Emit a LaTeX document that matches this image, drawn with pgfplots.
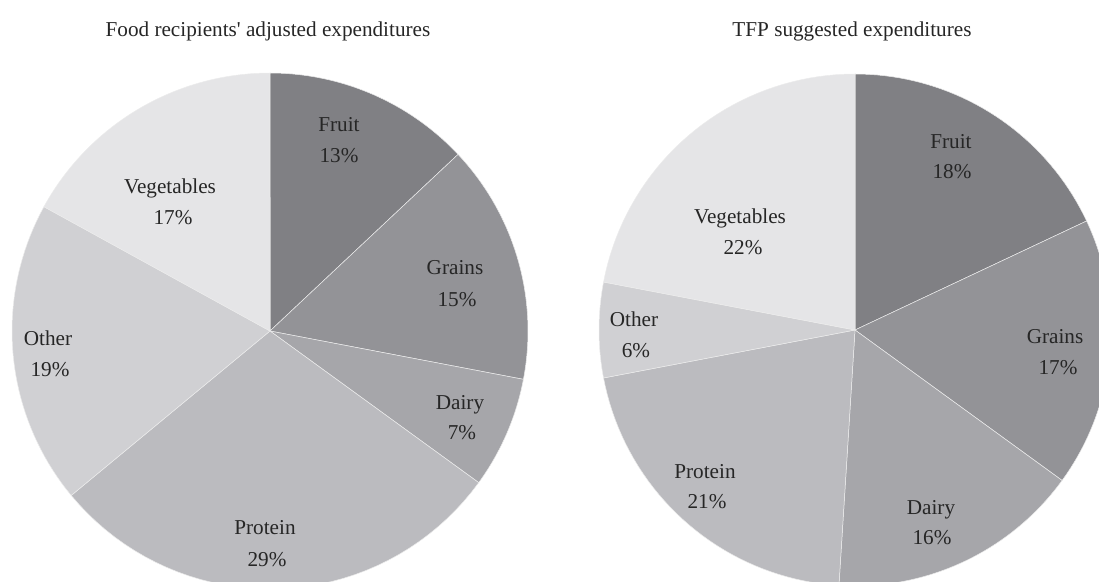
\documentclass[border=0pt]{standalone}
\usepackage{pgfplots}
\pgfplotsset{compat=1.18}
\usepackage{fontspec}
\setmainfont{Liberation Serif}
\definecolor{cFruit}{RGB}{128,128,132}
\definecolor{cGrains}{RGB}{147,147,151}
\definecolor{cDairy}{RGB}{166,166,170}
\definecolor{cProtein}{RGB}{187,187,191}
\definecolor{cOther}{RGB}{208,208,211}
\definecolor{cVeg}{RGB}{229,229,231}
\definecolor{txt}{RGB}{38,38,38}
\tikzset{lbl/.style={anchor=base, text=txt, font=\fontsize{10.6pt}{12pt}\selectfont}}
\begin{document}
\begin{tikzpicture}
\begin{axis}[
  at={(0,0)}, anchor=south west,
  scale only axis, width=549.5pt, height=291pt,
  xmin=0, xmax=1099, ymin=0, ymax=582, y dir=reverse,
  hide axis, clip=true,
  every axis plot/.append style={no markers, draw=white!85!gray, line width=0.25pt, samples=40},
]
% ---- Left pie: Food recipients' adjusted expenditures (cumulative %) ----
% Fruit 13, Grains 15, Dairy 7, Protein 29, Other 19, Vegetables 17
\addplot[fill=cFruit,   domain=0:13]   ({270+258*sin(3.6*x)},{331-258*cos(3.6*x)}) -- (axis cs:270,331) -- cycle;
\addplot[fill=cGrains,  domain=13:28]  ({270+258*sin(3.6*x)},{331-258*cos(3.6*x)}) -- (axis cs:270,331) -- cycle;
\addplot[fill=cDairy,   domain=28:35]  ({270+258*sin(3.6*x)},{331-258*cos(3.6*x)}) -- (axis cs:270,331) -- cycle;
\addplot[fill=cProtein, domain=35:64]  ({270+258*sin(3.6*x)},{331-258*cos(3.6*x)}) -- (axis cs:270,331) -- cycle;
\addplot[fill=cOther,   domain=64:83]  ({270+258*sin(3.6*x)},{331-258*cos(3.6*x)}) -- (axis cs:270,331) -- cycle;
\addplot[fill=cVeg,     domain=83:100] ({270+258*sin(3.6*x)},{331-258*cos(3.6*x)}) -- (axis cs:270,331) -- cycle;
% ---- Right pie: TFP suggested expenditures ----
% Fruit 18, Grains 17, Dairy 16, Protein 21, Other 6, Vegetables 22
\addplot[fill=cFruit,   domain=0:18]   ({855+256*sin(3.6*x)},{330-256*cos(3.6*x)}) -- (axis cs:855,330) -- cycle;
\addplot[fill=cGrains,  domain=18:35]  ({855+256*sin(3.6*x)},{330-256*cos(3.6*x)}) -- (axis cs:855,330) -- cycle;
\addplot[fill=cDairy,   domain=35:51]  ({855+256*sin(3.6*x)},{330-256*cos(3.6*x)}) -- (axis cs:855,330) -- cycle;
\addplot[fill=cProtein, domain=51:72]  ({855+256*sin(3.6*x)},{330-256*cos(3.6*x)}) -- (axis cs:855,330) -- cycle;
\addplot[fill=cOther,   domain=72:78]  ({855+256*sin(3.6*x)},{330-256*cos(3.6*x)}) -- (axis cs:855,330) -- cycle;
\addplot[fill=cVeg,     domain=78:100] ({855+256*sin(3.6*x)},{330-256*cos(3.6*x)}) -- (axis cs:855,330) -- cycle;
% ---- titles ----
\node[lbl] at (axis cs:268,37) {Food recipients\textquotesingle{} adjusted expenditures};
\node[lbl] at (axis cs:852,37) {TFP suggested expenditures};
% ---- left labels ----
\node[lbl] at (axis cs:339,132) {Fruit};      \node[lbl] at (axis cs:339,163) {13\%};
\node[lbl] at (axis cs:455,275) {Grains};     \node[lbl] at (axis cs:457,307) {15\%};
\node[lbl] at (axis cs:460,410) {Dairy};      \node[lbl] at (axis cs:462,440) {7\%};
\node[lbl] at (axis cs:265,535) {Protein};    \node[lbl] at (axis cs:267,567) {29\%};
\node[lbl] at (axis cs:48,346)  {Other};      \node[lbl] at (axis cs:50,377)  {19\%};
\node[lbl] at (axis cs:170,194) {Vegetables}; \node[lbl] at (axis cs:173,225) {17\%};
% ---- right labels ----
\node[lbl] at (axis cs:951,149) {Fruit};      \node[lbl] at (axis cs:952,179) {18\%};
\node[lbl] at (axis cs:1055,344) {Grains};    \node[lbl] at (axis cs:1058,375) {17\%};
\node[lbl] at (axis cs:931,515) {Dairy};      \node[lbl] at (axis cs:932,545) {16\%};
\node[lbl] at (axis cs:705,479) {Protein};    \node[lbl] at (axis cs:707,509) {21\%};
\node[lbl] at (axis cs:634,327) {Other};      \node[lbl] at (axis cs:636,358) {6\%};
\node[lbl] at (axis cs:740,224) {Vegetables}; \node[lbl] at (axis cs:743,255) {22\%};
\coordinate (bbsw) at (axis cs:0,582);
\coordinate (bbne) at (axis cs:1099,0);
\end{axis}
\pgfresetboundingbox
\path[use as bounding box] (bbsw) rectangle (bbne);
\end{tikzpicture}
\end{document}
